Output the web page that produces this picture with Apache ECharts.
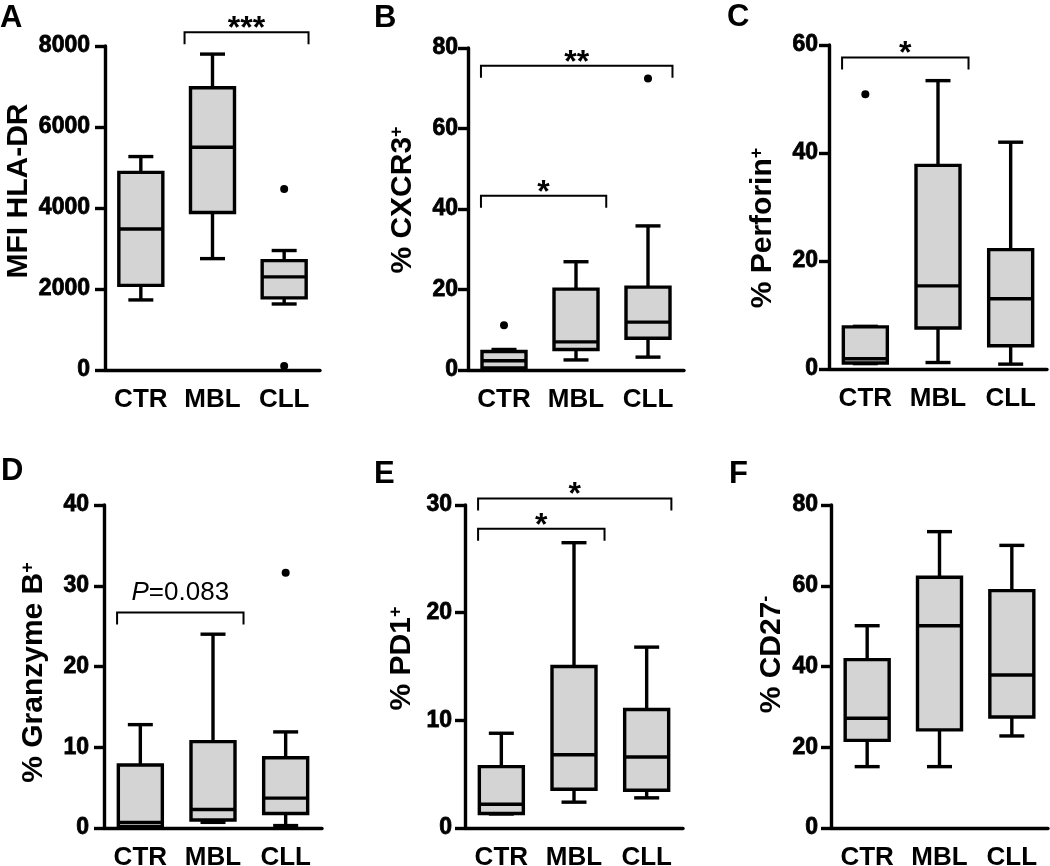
<!DOCTYPE html>
<html>
<head>
<meta charset="utf-8">
<title>CTR / MBL / CLL</title>
<script src="https://cdn.jsdelivr.net/npm/echarts@6/dist/echarts.min.js"></script>
<style>
html, body { margin: 0; padding: 0; background: #fff; }
#chart { width: 1050px; height: 866px; }
</style>
</head>
<body>
<div id="chart"></div>
<script>
// 数据
var groups = ['CTR', 'MBL', 'CLL'];
var panelLetters = ['A', 'B', 'C', 'D', 'E', 'F'];
var yNames = ['MFI HLA-DR', '% CXCR3{sup|+}', '% Perforin{sup|+}', '% Granzyme B{sup|+}', '% PD1{sup|+}', '% CD27{sup|-}'];
var yMax = [8000, 80, 60, 40, 30, 80];
var yStep = [2000, 20, 20, 10, 10, 20];

// 每组: [min, Q1, median, Q3, max]
var hladrBox = [[1730, 2090, 3480, 4880, 5270], [2750, 3890, 5500, 6970, 7800], [1630, 1780, 2300, 2700, 2950]];
var cxcr3Box = [[0.1, 0.5, 2.3, 4.6, 5.1], [2.5, 5.1, 7.0, 20.1, 26.9], [3.2, 7.9, 11.9, 20.6, 35.8]];
var perforinBox = [[1.0, 1.1, 1.9, 7.8, 7.9], [1.2, 7.6, 15.4, 37.7, 53.4], [0.9, 4.3, 13.0, 22.1, 42.0]];
var granzymeBox = [[0.1, 0.2, 0.7, 7.8, 12.8], [0.7, 1.0, 2.3, 10.7, 24.0], [0.3, 1.8, 3.7, 8.7, 11.9]];
var pd1Box = [[1.3, 1.35, 2.2, 5.7, 8.8], [2.4, 3.6, 6.8, 15.0, 26.5], [2.8, 3.5, 6.6, 11.0, 16.8]];
var cd27Box = [[15.2, 21.7, 27.2, 41.7, 50.1], [15.2, 24.3, 50.1, 62.1, 73.4], [22.8, 27.5, 37.9, 58.8, 70.0]];

// 离群点: [组, 值]
var hladrOut = [[2, 4470], [2, 100]];
var cxcr3Out = [[0, 11.1], [2, 72.4]];
var perforinOut = [[0, 50.9]];
var granzymeOut = [[2, 31.6]];
var pd1Out = [];
var cd27Out = [];

// 显著性: [起始组, 结束组, 高度, 标记]
var hladrSig = [[1, 2, 8340, '***']];
var cxcr3Sig = [[0, 2, 75.6, '**'], [0, 1, 43.3, '*']];
var perforinSig = [[0, 1, 57.7, '*']];
var granzymeSig = [[0, 1, 26.7, '{i|P}=0.083']];
var pd1Sig = [[0, 2, 30.6, '*'], [0, 1, 27.8, '*']];
var cd27Sig = [];

var boxes = [hladrBox, cxcr3Box, perforinBox, granzymeBox, pd1Box, cd27Box];
var outliers = [hladrOut, cxcr3Out, perforinOut, granzymeOut, pd1Out, cd27Out];
var sigs = [hladrSig, cxcr3Sig, perforinSig, granzymeSig, pd1Sig, cd27Sig];

// 版面
var layout = [
    {left: 105, top: 46, width: 215, height: 324, gap: 71, margin: 15, shift: 17, lx: 0, ly: 19},
    {left: 468, top: 48, width: 216, height: 322, gap: 50, margin: 10, shift: 9, lx: 374, ly: 19},
    {left: 829, top: 45, width: 218, height: 324, gap: 51, margin: 11, shift: -21, lx: 727, ly: 18},
    {left: 104, top: 505, width: 218, height: 323, gap: 55, margin: 15, shift: -6, lx: 1, ly: 472},
    {left: 465, top: 505, width: 218, height: 323, gap: 48, margin: 13, shift: 8, lx: 374, ly: 475},
    {left: 831, top: 505, width: 217, height: 323, gap: 44, margin: 13, shift: 12, lx: 729, ly: 475}
];

var FONT = '"Liberation Sans", Arial, sans-serif';
var LW = 3.4;
var startShift = [-0.32, -0.39, 0];
var endShift = [0, 0.42, 0.34];

function renderBox(params, api) {
    var x = api.value(0);
    var low = api.coord([x, api.value(1)]);
    var q1 = api.coord([x, api.value(2)]);
    var med = api.coord([x, api.value(3)]);
    var q3 = api.coord([x, api.value(4)]);
    var high = api.coord([x, api.value(5)]);
    var cx = low[0];
    var bw = 22, cw = 12.5;
    var ls = {stroke: '#000', lineWidth: LW, fill: null};
    return {
        type: 'group',
        children: [
            {type: 'line', shape: {x1: cx, y1: high[1], x2: cx, y2: q3[1]}, style: ls},
            {type: 'line', shape: {x1: cx, y1: q1[1], x2: cx, y2: low[1]}, style: ls},
            {type: 'line', shape: {x1: cx - cw, y1: high[1], x2: cx + cw, y2: high[1]}, style: ls},
            {type: 'line', shape: {x1: cx - cw, y1: low[1], x2: cx + cw, y2: low[1]}, style: ls},
            {type: 'rect', shape: {x: cx - bw, y: q3[1], width: bw * 2, height: q1[1] - q3[1]},
                style: {fill: '#d4d4d4', stroke: '#000', lineWidth: LW}},
            {type: 'line', shape: {x1: cx - bw, y1: med[1], x2: cx + bw, y2: med[1]}, style: ls}
        ]
    };
}

function bracketRenderer(list) {
    return function (params, api) {
        var s = list[params.dataIndex];
        var a = api.coord([s[0], s[2]]);
        var b = api.coord([s[1], s[2]]);
        var band = api.coord([1, s[2]])[0] - api.coord([0, s[2]])[0];
        var x1 = a[0] + startShift[s[0]] * band;
        var x2 = b[0] + endShift[s[1]] * band;
        var y = a[1];
        var isP = s[3].indexOf('P') >= 0;
        return {
            type: 'group',
            children: [
                {type: 'polyline', shape: {points: [[x1, y + 12], [x1, y], [x2, y], [x2, y + 12]]},
                    style: {stroke: '#000', lineWidth: 2, fill: null}},
                {type: 'text', x: (x1 + x2) / 2, y: isP ? y - 20 : y - 3,
                    style: {
                        text: s[3], align: 'center', verticalAlign: 'middle',
                        fontFamily: FONT, fontSize: isP ? 26 : 32, fontWeight: isP ? 'normal' : 'bold', fill: '#000',
                        rich: {i: {fontStyle: 'italic', fontFamily: FONT, fontSize: 26, fill: '#000'}}
                    }}
            ]
        };
    };
}

var grids = [], xAxes = [], yAxes = [], series = [], graphics = [];

for (var i = 0; i < 6; i++) {
    var L = layout[i];
    // 用空白片段把轴名挪到合适位置
    var nameText = L.shift > 0 ? '{gap| }' + yNames[i] : yNames[i] + '{gap| }';

    grids.push({left: L.left, top: L.top, width: L.width, height: L.height, outerBoundsMode: 'none'});
    xAxes.push({
        type: 'category', gridIndex: i, data: groups,
        axisLine: {lineStyle: {color: '#000', width: LW}},
        axisTick: {alignWithLabel: true, length: 10, lineStyle: {color: '#000', width: LW}},
        axisLabel: {color: '#000', fontFamily: FONT, fontWeight: 'bold', fontSize: 26, margin: 17, interval: 0}
    });
    yAxes.push({
        type: 'value', gridIndex: i, min: 0, max: yMax[i], interval: yStep[i],
        name: nameText, nameLocation: 'middle', nameGap: L.gap, nameMoveOverlap: false,
        nameTextStyle: {
            color: '#000', fontFamily: FONT, fontWeight: 'bold', fontSize: 30,
            rich: {
                sup: {fontFamily: FONT, fontWeight: 'bold', fontSize: 18, color: '#000', verticalAlign: 'top', padding: [0, 0, 8, 0]},
                gap: {fontFamily: FONT, fontSize: 30, width: 2 * Math.abs(L.shift)}
            }
        },
        splitLine: {show: false},
        axisLine: {show: true, lineStyle: {color: '#000', width: LW}},
        axisTick: {show: true, length: 10, lineStyle: {color: '#000', width: LW}},
        axisLabel: {
            color: '#000', fontFamily: FONT, fontWeight: 'bold', fontSize: 23, margin: L.margin,
            textBorderColor: '#000', textBorderWidth: 0.8,
            formatter: function (v) { return String(v); }
        }
    });

    series.push({
        type: 'custom', xAxisIndex: i, yAxisIndex: i,
        renderItem: renderBox,
        encode: {x: 0, y: [1, 2, 3, 4, 5]},
        data: boxes[i].map(function (b, k) { return [k].concat(b); })
    });
    series.push({
        type: 'scatter', xAxisIndex: i, yAxisIndex: i,
        symbol: 'circle', symbolSize: 8, itemStyle: {color: '#000', opacity: 1},
        data: outliers[i]
    });
    if (sigs[i].length) {
        series.push({
            type: 'custom', xAxisIndex: i, yAxisIndex: i, clip: false,
            renderItem: bracketRenderer(sigs[i]),
            encode: {x: [0, 1], y: 2},
            data: sigs[i].map(function (s) { return [s[0], s[1], s[2]]; })
        });
    }

    graphics.push({
        type: 'text', left: L.lx, top: L.ly - 16,
        style: {text: panelLetters[i], fontFamily: FONT, fontWeight: 'bold', fontSize: 31, fill: '#000'}
    });
}

var myChart = echarts.init(document.getElementById('chart'));
myChart.setOption({
    backgroundColor: '#fff',
    animation: false,
    grid: grids,
    xAxis: xAxes,
    yAxis: yAxes,
    series: series,
    graphic: graphics
});
</script>
</body>
</html>
